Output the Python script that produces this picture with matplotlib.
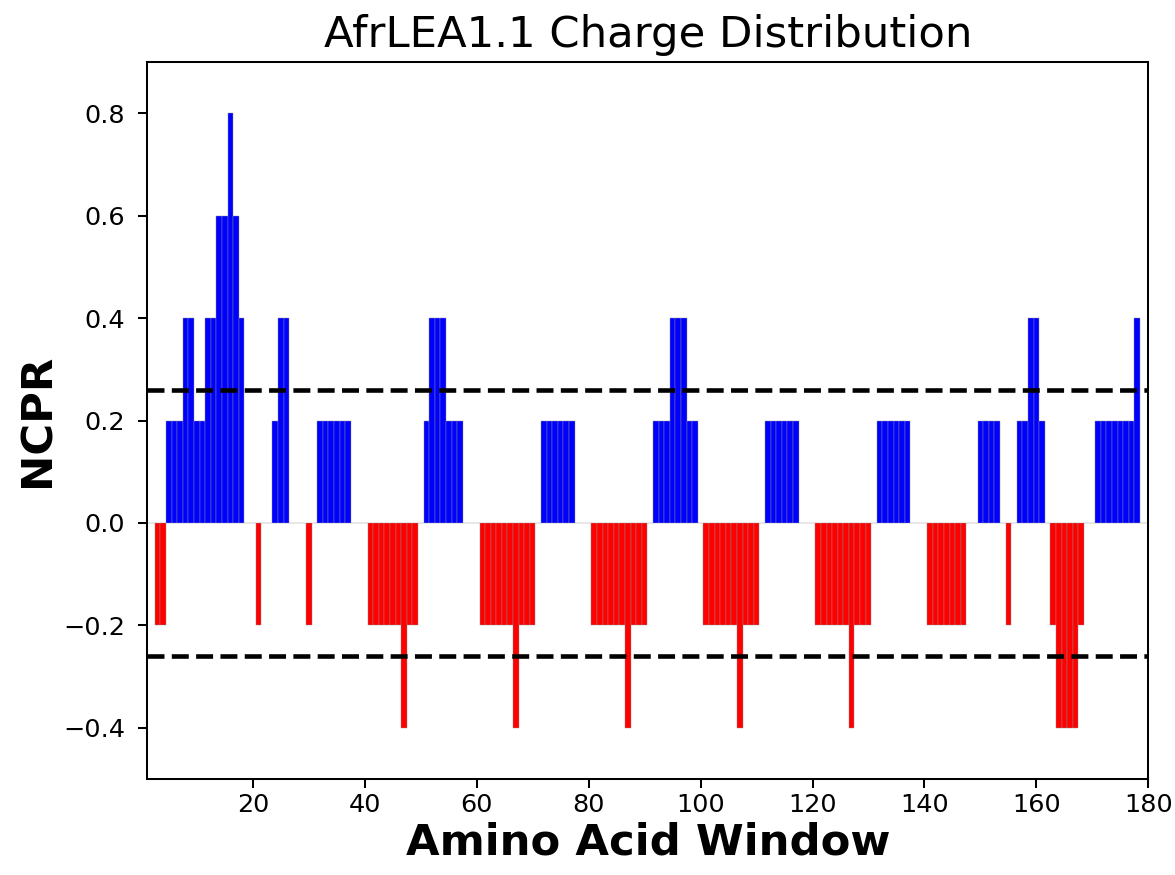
import matplotlib
matplotlib.use("Agg")
import matplotlib.pyplot as plt
import numpy as np

title = "AfrLEA1.1 Charge Distribution"
x_label = "Amino Acid Window"
y_label = "NCPR"
threshold = 0.26

# window positions 1..180
positions = list(range(1, 181))
# NCPR value per window
ncpr = [
    0.0, 0.0, -0.2, -0.2, 0.2, 0.2, 0.2, 0.4, 0.4, 0.2,            # 1-10
    0.2, 0.4, 0.4, 0.6, 0.6, 0.8, 0.6, 0.4, 0.0, 0.0,              # 11-20
    -0.2, 0.0, 0.0, 0.2, 0.4, 0.4, 0.0, 0.0, 0.0, -0.2,            # 21-30
    0.0, 0.2, 0.2, 0.2, 0.2, 0.2, 0.2, 0.0, 0.0, 0.0,              # 31-40
    -0.2, -0.2, -0.2, -0.2, -0.2, -0.2, -0.4, -0.2, -0.2, 0.0,     # 41-50
    0.2, 0.4, 0.4, 0.4, 0.2, 0.2, 0.2, 0.0, 0.0, 0.0,              # 51-60
    -0.2, -0.2, -0.2, -0.2, -0.2, -0.2, -0.4, -0.2, -0.2, -0.2,    # 61-70
    0.0, 0.2, 0.2, 0.2, 0.2, 0.2, 0.2, 0.0, 0.0, 0.0,              # 71-80
    -0.2, -0.2, -0.2, -0.2, -0.2, -0.2, -0.4, -0.2, -0.2, -0.2,    # 81-90
    0.0, 0.2, 0.2, 0.2, 0.4, 0.4, 0.4, 0.2, 0.2, 0.0,              # 91-100
    -0.2, -0.2, -0.2, -0.2, -0.2, -0.2, -0.4, -0.2, -0.2, -0.2,    # 101-110
    0.0, 0.2, 0.2, 0.2, 0.2, 0.2, 0.2, 0.0, 0.0, 0.0,              # 111-120
    -0.2, -0.2, -0.2, -0.2, -0.2, -0.2, -0.4, -0.2, -0.2, -0.2,    # 121-130
    0.0, 0.2, 0.2, 0.2, 0.2, 0.2, 0.2, 0.0, 0.0, 0.0,              # 131-140
    -0.2, -0.2, -0.2, -0.2, -0.2, -0.2, -0.2, 0.0, 0.0, 0.2,       # 141-150
    0.2, 0.2, 0.2, 0.0, -0.2, 0.0, 0.2, 0.2, 0.4, 0.4,             # 151-160
    0.2, 0.0, -0.2, -0.4, -0.4, -0.4, -0.4, -0.2, 0.0, 0.0,        # 161-170
    0.2, 0.2, 0.2, 0.2, 0.2, 0.2, 0.2, 0.4, 0.0, 0.0,              # 171-180
]
x_ticks = [20, 40, 60, 80, 100, 120, 140, 160, 180]
y_ticks = [-0.4, -0.2, 0.0, 0.2, 0.4, 0.6, 0.8]

s = 1.835  # scale factor relative to default 640x480 figure
plt.rcParams["font.family"] = "DejaVu Sans"

fig = plt.figure(figsize=(11.75, 8.75), dpi=100)
ax = fig.add_axes([0.1254, 0.1097, 0.8519, 0.8194])

colors = ["blue" if v > 0 else "red" for v in ncpr]
ax.bar(positions, ncpr, width=1.0, color=colors, edgecolor="#909090",
       linewidth=0.3)

ax.axhline(threshold, color="black", linestyle="--", linewidth=1.8 * s)
ax.axhline(-threshold, color="black", linestyle="--", linewidth=1.8 * s)

ax.set_xlim(1.15, 180)
ax.set_ylim(-0.5, 0.9)
ax.set_xticks(x_ticks)
ax.set_yticks(y_ticks)
ax.tick_params(labelsize=10 * s, length=3.5 * s, width=0.8 * s)
ax.tick_params(axis="y", pad=3.5 * s + 3)
for sp in ax.spines.values():
    sp.set_linewidth(0.8 * s)

ax.set_title(title, fontsize=17 * s, pad=6 * s)
ax.set_xlabel(x_label, fontsize=17 * s, fontweight="bold", labelpad=2 * s)
ax.set_ylabel(y_label, fontsize=17 * s, fontweight="bold", labelpad=2 * s)

fig.savefig("out.png", dpi=100)
